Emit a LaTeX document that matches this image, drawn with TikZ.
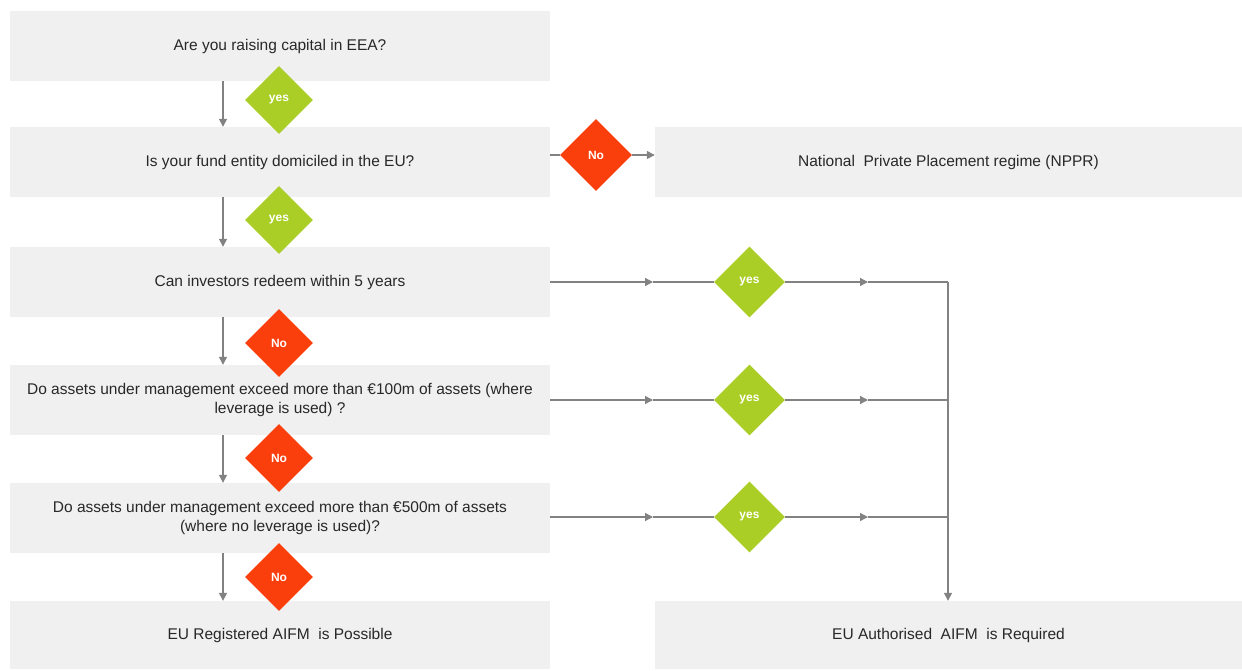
\documentclass[tikz,border=0pt]{standalone}
\usepackage{fontspec}
\setmainfont{Liberation Sans}
\usetikzlibrary{shapes.geometric,arrows.meta,backgrounds}
\definecolor{boxgray}{RGB}{240,240,240}
\definecolor{ygreen}{RGB}{170,206,38}
\definecolor{nred}{RGB}{250,62,12}
\definecolor{lgray}{RGB}{130,130,130}
\definecolor{txt}{RGB}{40,40,40}
\begin{document}
\begin{tikzpicture}[x=1pt,y=-1pt,
  box/.style={fill=boxgray,draw=none,minimum width=540pt,minimum height=70pt,inner sep=0pt,align=center,text=txt,font=\fontsize{15.5}{18.5}\selectfont},
  rbox/.style={box,minimum width=587pt},
  dia/.style={diamond,minimum width=68pt,minimum height=68pt,inner sep=0pt,text=white,font=\bfseries\fontsize{12}{14}\selectfont},
  dyes/.style={dia,fill=ygreen},
  dno/.style={dia,fill=nred},
  ln/.style={draw=lgray,line width=1.3pt},
  arr/.style={ln,-{Triangle[length=8pt,width=8pt]}}
]
\useasboundingbox (0,0) rectangle (1242,670);
% boxes
\node[box] (b1) at (280,46) {Are you raising capital in EEA?};
\node[box] (b2) at (280,162) {Is your fund entity domiciled in the EU?};
\node[box] (b3) at (280,282) {Can investors redeem within 5 years};
\node[box] (b4) at (280,400) {Do assets under management exceed more than €100m of assets (where\\leverage is used) ?};
\node[box] (b5) at (280,518) {Do assets under management exceed more than €500m of assets\\(where no leverage is used)?};
\node[box,minimum height=68pt] (b6) at (280,635) {EU Registered AIFM\ \ is Possible};
\node[rbox] (nppr) at (948.5,162) {National\ \ Private\ Placement regime (NPPR)};
\node[rbox,minimum height=68pt] (auth) at (948.5,635) {EU Authorised\ \ AIFM\ \ is Required};
% diamonds
\node[dyes] (y1) at (279,100) {yes};
\node[dyes] (y2) at (279,220) {yes};
\node[dno] (n1) at (279,343) {No};
\node[dno] (n2) at (279,458) {No};
\node[dno] (n3) at (279,577) {No};
\node[dno,minimum width=72pt,minimum height=72pt] (n0) at (596,155) {No};
\node[dyes,minimum width=71pt,minimum height=71pt] (y3) at (749.5,282) {yes};
\node[dyes,minimum width=71pt,minimum height=71pt] (y4) at (749.5,400) {yes};
\node[dyes,minimum width=71pt,minimum height=71pt] (y5) at (749.5,517) {yes};
% coordinates
\coordinate (vx) at (223,0);
\coordinate (m3a) at (653,282);
\coordinate (m3b) at (868,282);
\coordinate (c3) at (948,282);
\coordinate (m4a) at (653,400);
\coordinate (m4b) at (868,400);
\coordinate (c4) at (948,400);
\coordinate (m5a) at (653,517);
\coordinate (m5b) at (868,517);
\coordinate (c5) at (948,517);
\coordinate (e0) at (550,155);
\coordinate (e3) at (550,282);
\coordinate (e4) at (550,400);
\coordinate (e5) at (550,517);
\begin{pgfonlayer}{background}
\draw[arr] (b1.south -| vx) -- (b2.north -| vx);
\draw[arr] (b2.south -| vx) -- (b3.north -| vx);
\draw[arr] (b3.south -| vx) -- (b4.north -| vx);
\draw[arr] (b4.south -| vx) -- (b5.north -| vx);
\draw[arr] (b5.south -| vx) -- (b6.north -| vx);
\draw[arr] (e0) -- (n0) -- (nppr.west |- n0);
\draw[arr] (e3) -- (m3a);
\draw[ln] (m3a) -- (y3);
\draw[arr] (y3) -- (m3b);
\draw[ln] (m3b) -- (c3);
\draw[arr] (e4) -- (m4a);
\draw[ln] (m4a) -- (y4);
\draw[arr] (y4) -- (m4b);
\draw[ln] (m4b) -- (c4);
\draw[arr] (e5) -- (m5a);
\draw[ln] (m5a) -- (y5);
\draw[arr] (y5) -- (m5b);
\draw[ln] (m5b) -- (c5);
\draw[arr] (c3) -- (auth.north -| c3);
\end{pgfonlayer}
\end{tikzpicture}
\end{document}
